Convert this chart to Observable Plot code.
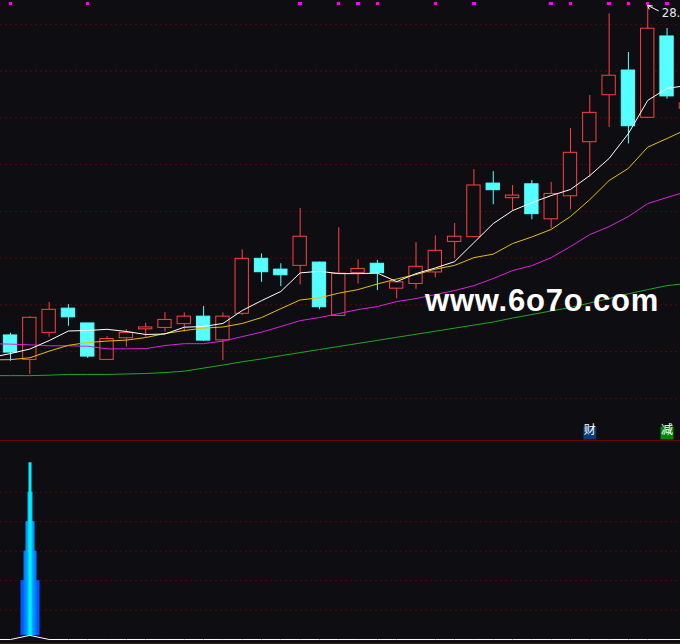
<!DOCTYPE html>
<html><head><meta charset="utf-8">
<script src="https://cdn.jsdelivr.net/npm/d3@7"></script>
<script src="https://cdn.jsdelivr.net/npm/@observablehq/plot@0.6"></script>
<style>
html,body{margin:0;padding:0;background:#0e0e12;}
#chart{position:relative;width:680px;height:644px;overflow:hidden;background:#0e0e12;}
#chart svg{display:block;}
</style></head><body><div id="chart"></div>
<script>
// ---- data ----
const days  = [1,2,3,4,5,6,7,8,9,10,11,12,13,14,15,16,17,18,19,20,21,22,23,24,25,26,27,28,29,30,31,32,33,34,35,36];
const open  = [14.41,13.37,14.52,15.55,14.92,13.37,14.29,14.67,14.73,14.89,15.21,14.20,15.33,17.67,17.21,17.37,17.51,15.24,17.07,17.46,16.40,16.60,17.09,18.39,18.59,20.87,20.25,20.84,19.35,20.33,22.63,24.63,25.68,23.67,27.13,24.06];
const high  = [14.50,15.21,15.81,15.72,14.93,14.36,14.66,14.93,15.38,15.37,15.64,15.37,18.05,17.88,17.46,19.81,17.53,18.99,17.63,17.60,16.70,18.36,18.65,19.17,21.47,21.38,20.79,21.00,20.92,23.21,24.62,28.09,26.45,28.45,27.47,24.40];
const low   = [13.31,12.75,14.33,14.80,13.43,13.35,13.91,14.33,14.55,14.55,14.15,13.34,15.26,16.67,16.49,16.56,15.50,15.22,16.60,16.32,15.97,16.37,16.86,17.67,18.57,19.97,19.69,19.33,18.95,19.75,21.14,23.26,22.56,23.65,24.46,23.90];
const close = [13.68,15.16,15.50,15.18,13.51,14.26,14.52,14.75,15.07,15.21,14.19,15.21,17.67,17.10,16.97,18.61,15.61,17.04,17.24,17.06,16.67,17.33,18.01,18.61,20.79,20.59,20.36,19.57,20.43,22.18,23.88,25.46,23.31,27.46,24.58,24.28];

const maDays = [0,1,2,3,4,5,6,7,8,9,10,11,12,13,14,15,16,17,18,19,20,21,22,23,24,25,26,27,28,29,30,31,32,33,34,35,36];
const ma5  = [13.47,13.64,13.83,14.19,14.60,14.62,14.67,14.58,14.45,14.47,14.76,14.79,14.92,15.47,15.89,16.28,17.07,17.14,17.04,17.04,17.06,16.70,17.04,17.28,17.55,18.36,19.17,19.72,20.06,20.36,20.62,21.21,21.94,23.00,24.41,24.92,25.04];
const ma10 = [13.37,13.38,13.46,13.74,13.99,14.11,14.17,14.21,14.32,14.49,14.62,14.72,14.77,14.92,15.17,15.55,15.92,16.01,16.21,16.36,16.60,16.81,17.00,17.23,17.39,17.72,17.87,18.32,18.60,18.92,19.47,20.19,21.00,21.52,22.42,22.79,23.17];
const ma20 = [14.06,14.04,14.01,13.97,13.97,13.95,13.84,13.84,13.85,13.98,14.06,14.06,14.17,14.36,14.55,14.79,15.04,15.17,15.34,15.51,15.64,15.85,15.98,16.15,16.32,16.53,16.83,17.17,17.38,17.72,18.19,18.70,19.04,19.47,20.02,20.28,20.53];
const ma60 = [12.70,12.70,12.70,12.72,12.75,12.75,12.75,12.77,12.79,12.83,12.89,13.02,13.15,13.29,13.41,13.55,13.68,13.81,13.94,14.07,14.20,14.33,14.46,14.59,14.72,14.85,14.98,15.15,15.30,15.45,15.60,15.79,15.98,16.18,16.36,16.53,16.62];

const gridPrices = [27.63,25.66,23.67,21.68,19.68,17.70,15.71,13.72,11.72];
const markerDays = [1,5,16,18,19,20,23,25,29,30,32,33,34,35];
const signalDays = [31,35];
const signalTexts = ["财","减"];
const peakDay = 34;
const peakLabel = "28.45";
const watermark = "www.6o7o.com";

// lower indicator
const lowerLine = [0,0,0.14,0,0,0,0,0,0,0,0,0,0,0,0,0,0,0,0,0,0,0,0,0,0,0,0,0,0,0,0,0,0,0,0,0,0];
const towerDay = 2;
const towerLevels = [2,3,4,5,6];
const lowerGrid = [1,2,3,4,5];

// ---- styles ----
const BG = "#0e0e12", RED = "#ff4040", CYAN = "#55ffff";
const GRID = "#5c0808", BORDER = "#720000";
const towerColors = ["#0058ff","#0078ff","#0098ff","#00bcff","#00eeff"];
const towerHalf = [0.492,0.337,0.233,0.129,0.078];
const signalColors = ["#0a3a78","#008800"];
const HALF = 0.345;
const X_DOMAIN = [0.482, 35.697];
const Y_MAIN = [9.94, 28.66];
const Y_LOW = [-0.136, 6.757];

const candles = days.map((d,i)=>({day:d, open:open[i], high:high[i], low:low[i], close:close[i]}));
const ups = candles.filter(c=>c.close>=c.open);
const downs = candles.filter(c=>c.close<c.open);
const signals = signalDays.map((d,i)=>({day:d, text:signalTexts[i], color:signalColors[i]}));

const main = Plot.plot({
  width:680, height:440, margin:0,
  style:{background:BG, overflow:"visible"},
  x:{domain:X_DOMAIN, axis:null},
  y:{domain:Y_MAIN, axis:null},
  color:{type:"identity"},
  marks:[
    Plot.ruleY(gridPrices,{stroke:GRID, strokeDasharray:"2,3"}),
    Plot.ruleX(ups,{x:"day", y1:"low", y2:"high", stroke:RED}),
    Plot.rect(ups,{x1:d=>d.day-HALF, x2:d=>d.day+HALF, y1:"open", y2:"close", fill:BG, stroke:RED}),
    Plot.ruleX(downs,{x:"day", y1:"low", y2:"high", stroke:CYAN}),
    Plot.rect(downs,{x1:d=>d.day-HALF, x2:d=>d.day+HALF, y1:"open", y2:"close", fill:CYAN, stroke:CYAN}),
    Plot.line(maDays,{x:d=>d, y:(d,i)=>ma60[i], stroke:"#20a820", strokeWidth:1}),
    Plot.line(maDays,{x:d=>d, y:(d,i)=>ma20[i], stroke:"#dd22dd", strokeWidth:1}),
    Plot.line(maDays,{x:d=>d, y:(d,i)=>ma10[i], stroke:"#e4c000", strokeWidth:1}),
    Plot.line(maDays,{x:d=>d, y:(d,i)=>ma5[i], stroke:"#ffffff", strokeWidth:1}),
    Plot.dot(markerDays,{x:d=>d, frameAnchor:"top", dy:3, symbol:"square", r:1.9, fill:"#ff00ff", shapeRendering:"crispEdges"}),
    Plot.dot(signals,{x:"day", frameAnchor:"bottom", dy:-7.5, symbol:"square", r:7.3, fill:"color"}),
    Plot.text(signals,{x:"day", frameAnchor:"bottom", dy:-7, text:"text", fill:"#ffffff", fontSize:12, fontFamily:"Noto Sans CJK SC"}),
    Plot.text([peakDay],{x:d=>d, y:d=>high[d-1], text:()=>peakLabel, dx:14, dy:7.5, textAnchor:"start", fill:"#e8e8e8", fontSize:13, fontFamily:"Liberation Sans Narrow, DejaVu Sans Condensed, sans-serif"})
  ]
});

// arrow to the peak and watermark
{
  const sx = main.scale("x"), sy = main.scale("y");
  const tx = sx.apply(peakDay)+0.5, ty = sy.apply(high[peakDay-1])+0.5;
  d3.select(main).append("path")
    .attr("d",`M${tx},${ty}L${tx+11},${ty+5.5}M${tx+5},${ty+0.5}L${tx},${ty}L${tx+1.5},${ty+4}`)
    .attr("fill","none").attr("stroke","#ffffff").attr("stroke-width",1);
  d3.select(main).append("text")
    .attr("x",425).attr("y",311)
    .attr("text-anchor","start")
    .attr("fill","#ffffff")
    .attr("font-family","Liberation Sans, Arial, sans-serif")
    .attr("font-weight","bold").attr("font-size",31).attr("letter-spacing",0.8)
    .text(watermark);
}

const towers = towerLevels.map((v,i)=>({day:towerDay, top:v, base:lowerLine[towerDay], half:towerHalf[i], color:towerColors[i]}));

const lower = Plot.plot({
  width:680, height:204, marginTop:0, marginBottom:1, marginLeft:0, marginRight:0,
  style:{background:BG, overflow:"visible"},
  x:{domain:X_DOMAIN, axis:null},
  y:{domain:Y_LOW, axis:null},
  color:{type:"identity"},
  marks:[
    Plot.ruleY(lowerGrid,{stroke:GRID, strokeDasharray:"2,3"}),
    Plot.ruleY(Y_LOW,{stroke:BORDER}),
    Plot.rect(towers,{x1:d=>d.day-d.half, x2:d=>d.day+d.half, y1:"base", y2:"top", fill:"color", dx:0.7}),
    Plot.line(maDays,{x:d=>d, y:(d,i)=>lowerLine[i], stroke:"#ffffff", strokeWidth:1})
  ]
});

const host = document.getElementById("chart");
host.appendChild(main);
host.appendChild(lower);
</script></body></html>
